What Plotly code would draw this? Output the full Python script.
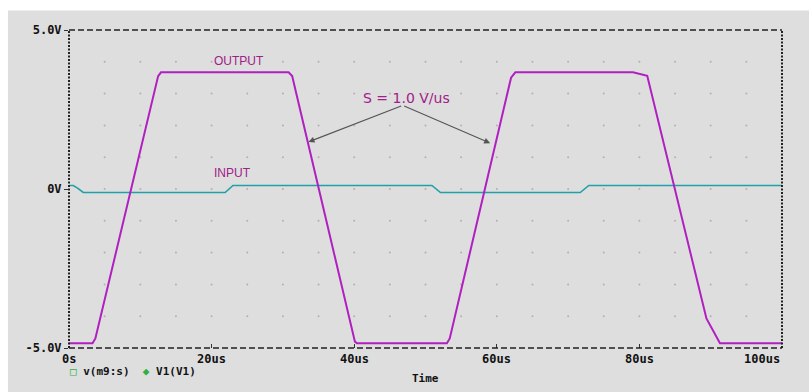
import numpy as np
import plotly.graph_objects as go

# Transient simulation results (time in microseconds, volts)
out_t = [0, 3.3, 3.7, 12.5, 12.9, 30.8, 31.3, 40.1, 40.4, 53.0, 53.4, 62.0, 62.6, 79.1, 81.1, 89.4, 91.3, 100]
out_v = [-4.85, -4.85, -4.7, 3.55, 3.67, 3.67, 3.55, -4.8, -4.85, -4.85, -4.7, 3.5, 3.67, 3.67, 3.56, -4.07, -4.85, -4.85]

in_t = [0, 0.6, 1.2, 2.0, 21.9, 23.0, 50.9, 52.1, 71.7, 72.9, 100]
in_v = [0.11, 0.11, 0.03, -0.11, -0.11, 0.11, 0.11, -0.11, -0.11, 0.11, 0.11]

x_ticks = [0, 20, 40, 60, 80, 100]
x_labels = ["0s", "20us", "40us", "60us", "80us", "100us"]
y_ticks = [-5, 0, 5]
y_labels = ["-5.0V", "0V", "5.0V"]

BG = "#dedede"
OUT_COLOR = "#b020c0"
IN_COLOR = "#20a0a8"
NOTE_COLOR = "#a0208a"
MONO = "DejaVu Sans Mono"

fig = go.Figure()

# dotted grid at every 5 us and every 1 V
gx, gy = np.meshgrid(np.arange(5, 100, 5), np.arange(-4, 5, 1))
fig.add_trace(go.Scatter(x=gx.ravel(), y=gy.ravel(), mode="markers",
                         marker=dict(size=2, color="#c4a6b8"),
                         hoverinfo="skip", showlegend=False))

fig.add_trace(go.Scatter(x=in_t, y=in_v, mode="lines", name="V1(V1)",
                         line=dict(color=IN_COLOR, width=1.6), showlegend=False))
fig.add_trace(go.Scatter(x=out_t, y=out_v, mode="lines", name="v(m9:s)",
                         line=dict(color=OUT_COLOR, width=2), showlegend=False))

# frame: dashed top/bottom, dotted left/right
fig.add_shape(type="line", xref="paper", yref="paper", x0=0, x1=1, y0=0, y1=0,
              line=dict(color="#222", width=1.3, dash="6px,3px"))
fig.add_shape(type="line", xref="paper", yref="paper", x0=0, x1=1, y0=1, y1=1,
              line=dict(color="#222", width=1.3, dash="6px,3px"))
fig.add_shape(type="line", xref="paper", yref="paper", x0=0, x1=0, y0=0, y1=1,
              line=dict(color="#222", width=2, dash="2px,1.5px"))
fig.add_shape(type="line", xref="paper", yref="paper", x0=1, x1=1, y0=0, y1=1,
              line=dict(color="#222", width=2, dash="2px,1.5px"))

# grey panel behind everything
fig.add_shape(type="rect", xref="paper", yref="paper", layer="below",
              x0=-0.0856, x1=1.04, y0=-0.2, y1=1.061,
              fillcolor=BG, line=dict(width=0))

# x tick labels (last one flush with the right edge)
for i, (tv, tl) in enumerate(zip(x_ticks, x_labels)):
    fig.add_annotation(x=tv, y=0, xref="x", yref="paper", text=tl, showarrow=False,
                       xanchor="right" if i == len(x_ticks) - 1 else "center",
                       yanchor="top", yshift=-2,
                       font=dict(family=MONO, size=12, color="#111", weight="bold"))

fig.add_annotation(x=0, y=0, xref="paper", yref="paper", text="Time", showarrow=False,
                   xanchor="center", yanchor="top", xshift=425 - 69, yshift=-22,
                   font=dict(family=MONO, size=11, color="#111", weight="bold"))

fig.add_annotation(x=0, y=0, xref="paper", yref="paper", showarrow=False,
                   xanchor="left", yanchor="top", yshift=-15, xshift=-1,
                   text='<span style="color:#30b040">□</span> v(m9:s)  '
                        '<span style="color:#30b040">◆</span> V1(V1)',
                   font=dict(family=MONO, size=11, color="#111", weight="bold"))

# waveform notes
fig.add_annotation(x=(238.5 - 69) / 7.127, y=(188.7 - 60.7) / 31.85, text="OUTPUT",
                   showarrow=False, font=dict(family="Liberation Sans", size=12, color=NOTE_COLOR))
fig.add_annotation(x=(232 - 69) / 7.127, y=(188.7 - 173) / 31.85, text="INPUT",
                   showarrow=False, font=dict(family="Liberation Sans", size=12, color=NOTE_COLOR))
fig.add_annotation(x=(406 - 69) / 7.127, y=(188.7 - 97.5) / 31.85, text="S = 1.0 V/us",
                   showarrow=False, font=dict(family="DejaVu Sans", size=14, color=NOTE_COLOR))

tail_x, tail_y = 46.8, 2.63
for tip_x, tip_y in [(33.58, 1.48), (59.07, 1.44)]:
    fig.add_annotation(x=tip_x, y=tip_y, ax=tail_x, ay=tail_y, axref="x", ayref="y",
                       xref="x", yref="y", text="", showarrow=True,
                       arrowhead=2, arrowsize=1.1, arrowwidth=1.1, arrowcolor="#555")

fig.update_xaxes(range=[0, 100], showgrid=False, zeroline=False, showline=False,
                 ticks="inside", ticklen=4, tickcolor="#333", tickvals=x_ticks[1:-1],
                 showticklabels=False)
fig.update_yaxes(range=[-5, 5], showgrid=False, zeroline=False, showline=False,
                 ticks="outside", ticklen=4, tickcolor="#333",
                 tickvals=y_ticks, ticktext=y_labels,
                 tickfont=dict(family=MONO, size=12, color="#111", weight="bold"))

fig.update_layout(width=809, height=392,
                  margin=dict(l=69, r=27.3, t=29.5, b=44, autoexpand=False),
                  paper_bgcolor="white", plot_bgcolor="rgba(0,0,0,0)",
                  showlegend=False)

fig.write_html("out.html")
